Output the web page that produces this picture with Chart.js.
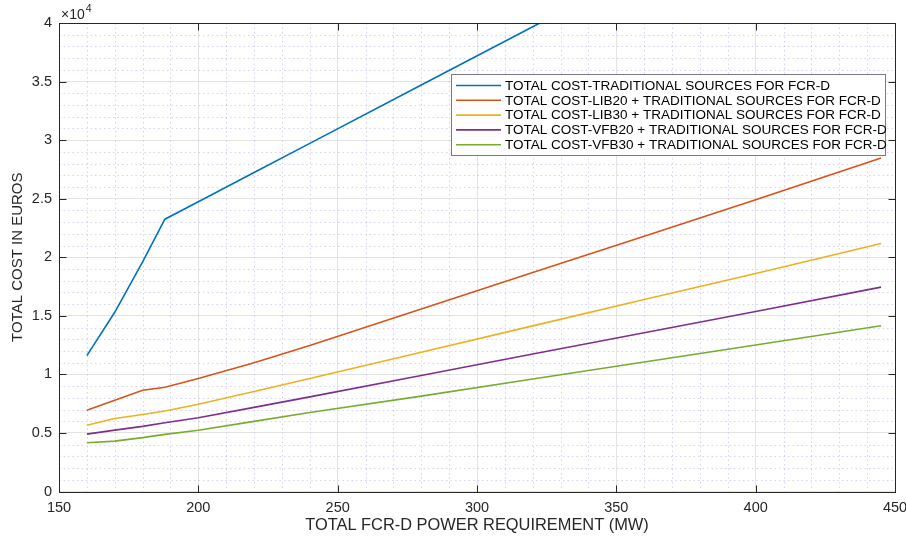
<!DOCTYPE html>
<html>
<head>
<meta charset="utf-8">
<script src="https://cdn.jsdelivr.net/npm/chart.js@4.4.1/dist/chart.umd.min.js"></script>
<style>
  html, body { margin: 0; padding: 0; background: #ffffff; }
  #wrap { position: relative; width: 906px; height: 536px; }
</style>
</head>
<body>
<div id="wrap"><canvas id="chart"></canvas></div>
<script>
// FCR-D power requirement (MW) at which each cost was evaluated
const powerMW = [160, 170, 180, 188, 200, 220, 240, 280, 320, 360, 400, 445];

// Total cost in euros for each supply mix
const costTraditional = [11600, 15300, 19600, 23250, 24740, 27230, 29720, 34700, 39680, 44650, 49630, 55230];
const costLib20 = [6940, 7800, 8650, 8900, 9650, 11000, 12470, 15580, 18690, 21800, 24900, 28470];
const costLib30 = [5660, 6230, 6580, 6870, 7450, 8540, 9640, 11890, 14140, 16390, 18620, 21170];
const costVfb20 = [4900, 5240, 5560, 5870, 6290, 7180, 8080, 9910, 11740, 13560, 15370, 17450];
const costVfb30 = [4160, 4300, 4600, 4880, 5230, 5990, 6740, 8140, 9600, 11060, 12510, 14150];

const seriesLabels = [
  'TOTAL COST-TRADITIONAL SOURCES FOR FCR-D',
  'TOTAL COST-LIB20 + TRADITIONAL SOURCES FOR FCR-D',
  'TOTAL COST-LIB30 + TRADITIONAL SOURCES FOR FCR-D',
  'TOTAL COST-VFB20 + TRADITIONAL SOURCES FOR FCR-D',
  'TOTAL COST-VFB30 + TRADITIONAL SOURCES FOR FCR-D'
];
const seriesValues = [costTraditional, costLib20, costLib30, costVfb20, costVfb30];
const seriesColors = ['#0072BD', '#D95319', '#EDB120', '#7E2F8E', '#77AC30'];

const xTicks = { min: 150, max: 450, major: 50, minor: 10 };
const yTicks = { min: 0, max: 40000, major: 5000, minor: 1000 };

const FONT = '"Liberation Sans", Arial, Helvetica, sans-serif';
const AXIS_COLOR = '#262626';

const datasets = seriesValues.map((vals, i) => ({
  label: seriesLabels[i],
  data: powerMW.map((x, j) => ({ x: x, y: vals[j] })),
  borderColor: seriesColors[i],
  backgroundColor: seriesColors[i],
  borderWidth: 1.6,
  pointRadius: 0,
  tension: 0,
  fill: false
}));

// Dotted minor grid, drawn beneath the data lines
const minorGrid = {
  id: 'minorGrid',
  beforeDatasetsDraw(chart) {
    const { ctx, chartArea: a, scales: { x, y } } = chart;
    ctx.save();
    ctx.strokeStyle = 'rgba(150,150,235,0.42)';
    ctx.lineWidth = 1;
    ctx.setLineDash([1.5, 3]);
    for (let v = xTicks.min + xTicks.minor; v < xTicks.max; v += xTicks.minor) {
      if (v % xTicks.major === 0) continue;
      const px = Math.round(x.getPixelForValue(v)) + 0.5;
      ctx.beginPath(); ctx.moveTo(px, a.top); ctx.lineTo(px, a.bottom); ctx.stroke();
    }
    for (let v = yTicks.min + yTicks.minor; v < yTicks.max; v += yTicks.minor) {
      if (v % yTicks.major === 0) continue;
      const py = Math.round(y.getPixelForValue(v)) + 0.5;
      ctx.beginPath(); ctx.moveTo(a.left, py); ctx.lineTo(a.right, py); ctx.stroke();
    }
    ctx.restore();
  }
};

// Axes box with inward ticks, exponent label and the legend
const frame = {
  id: 'frame',
  afterDatasetsDraw(chart) {
    const { ctx, chartArea: a, scales: { x, y } } = chart;
    ctx.save();
    ctx.strokeStyle = AXIS_COLOR;
    ctx.lineWidth = 1;
    ctx.setLineDash([]);
    const L = Math.round(a.left) + 0.5, R = Math.round(a.right) + 0.5;
    const T = Math.round(a.top) + 0.5, B = Math.round(a.bottom) + 0.5;
    ctx.strokeRect(L, T, R - L, B - T);
    const tl = 7;
    ctx.beginPath();
    for (let v = xTicks.min; v <= xTicks.max; v += xTicks.major) {
      const px = Math.round(x.getPixelForValue(v)) + 0.5;
      ctx.moveTo(px, B); ctx.lineTo(px, B - tl);
      ctx.moveTo(px, T); ctx.lineTo(px, T + tl);
    }
    for (let v = yTicks.min; v <= yTicks.max; v += yTicks.major) {
      const py = Math.round(y.getPixelForValue(v)) + 0.5;
      ctx.moveTo(L, py); ctx.lineTo(L + tl, py);
      ctx.moveTo(R, py); ctx.lineTo(R - tl, py);
    }
    ctx.stroke();

    // exponent multiplier above the y axis
    ctx.fillStyle = AXIS_COLOR;
    ctx.textBaseline = 'alphabetic';
    ctx.textAlign = 'left';
    ctx.font = '14px ' + FONT;
    ctx.fillText('\u00d710', a.left + 2, 19);
    const w = ctx.measureText('\u00d710').width;
    ctx.font = '10.5px ' + FONT;
    ctx.fillText('4', a.left + 3 + w, 12);

    // legend
    const bx = 451, by = 74, bw = 434, bh = 81;
    ctx.fillStyle = '#ffffff';
    ctx.fillRect(bx, by, bw, bh);
    ctx.strokeStyle = '#7a7a7a';
    ctx.strokeRect(bx + 0.5, by + 0.5, bw, bh);
    ctx.font = '13.5px ' + FONT;
    ctx.textBaseline = 'middle';
    chart.data.datasets.forEach((ds, i) => {
      const ry = by + 11.5 + i * 14.8;
      ctx.strokeStyle = ds.borderColor;
      ctx.lineWidth = 1.6;
      ctx.beginPath(); ctx.moveTo(456, ry); ctx.lineTo(501, ry); ctx.stroke();
      ctx.fillStyle = '#000000';
      ctx.fillText(ds.label, 505, ry + 0.5);
    });
    ctx.restore();
  }
};

new Chart(document.getElementById('chart'), {
  type: 'line',
  data: { datasets: datasets },
  options: {
    responsive: true,
    maintainAspectRatio: false,
    animation: false,
    layout: { padding: { top: 23, right: 11, left: 0, bottom: 0 } },
    plugins: { legend: { display: false }, tooltip: { enabled: false } },
    scales: {
      x: {
        type: 'linear',
        min: xTicks.min, max: xTicks.max,
        afterFit(s) { s.height = 44.5; s.paddingLeft = 0; s.paddingRight = 0; },
        border: { display: false },
        grid: { color: '#e3e3e3', lineWidth: 1, drawTicks: false },
        ticks: {
          stepSize: xTicks.major, padding: 8, color: AXIS_COLOR,
          font: { family: FONT, size: 14.5 }, maxRotation: 0
        },
        title: {
          display: true, text: 'TOTAL FCR-D POWER REQUIREMENT (MW)',
          color: AXIS_COLOR, font: { family: FONT, size: 16.4 },
          padding: { top: 0, bottom: 1 }
        }
      },
      y: {
        min: yTicks.min, max: yTicks.max,
        afterFit(s) { s.width = 59; s.paddingTop = 0; s.paddingBottom = 0; },
        border: { display: false },
        grid: { color: '#e3e3e3', lineWidth: 1, drawTicks: false },
        ticks: {
          stepSize: yTicks.major, padding: 7, color: AXIS_COLOR,
          font: { family: FONT, size: 14.5 },
          callback: v => String(v / 10000)
        },
        title: {
          display: true, text: 'TOTAL COST IN EUROS',
          color: AXIS_COLOR, font: { family: FONT, size: 15 },
          padding: { top: 9, bottom: 0 }
        }
      }
    }
  },
  plugins: [minorGrid, frame]
});
</script>
</body>
</html>
